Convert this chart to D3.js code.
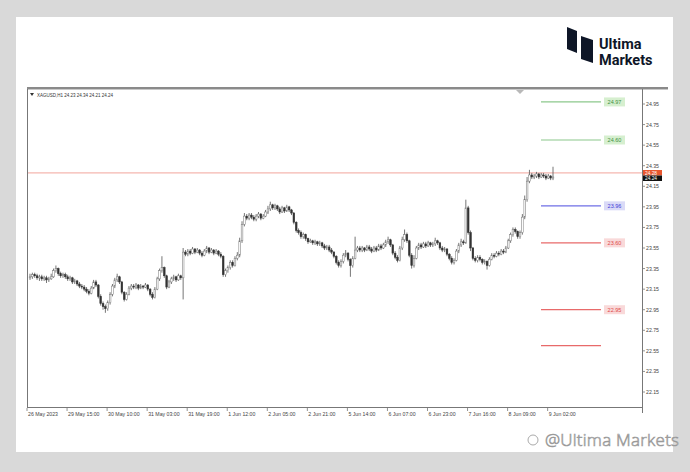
<!DOCTYPE html>
<html><head><meta charset="utf-8">
<script src="https://cdn.jsdelivr.net/npm/d3@7"></script>
<style>html,body{margin:0;padding:0;background:#d9d9d9;}svg{display:block;}</style>
</head><body>
<svg id="c" width="690" height="472"></svg>
<script>
// ---------- DATA (XAGUSD H1) ----------
const symbolTitle = "XAGUSD,H1";
const lastOHLC = ["24.23","24.34","24.21","24.24"];
const opens = [
23.26,23.27,23.29,23.28,23.26,23.27,23.25,23.26,23.24,23.25,
23.27,23.33,23.35,23.30,23.28,23.29,23.27,23.25,23.26,23.22,
23.23,23.20,23.18,23.17,23.15,23.13,23.11,23.16,23.22,23.19,
23.08,23.01,22.98,22.96,23.02,23.10,23.18,23.24,23.27,23.22,
23.12,23.05,23.10,23.16,23.18,23.17,23.19,23.16,23.18,23.17,
23.19,23.15,23.10,23.07,23.15,23.25,23.33,23.36,23.28,23.17,
23.22,23.25,23.27,23.24,23.28,23.26,23.51,23.49,23.52,23.50,
23.54,23.51,23.53,23.50,23.48,23.52,23.55,23.51,23.53,23.50,
23.52,23.49,23.47,23.29,23.33,23.36,23.41,23.38,23.45,23.48,
23.62,23.78,23.86,23.84,23.87,23.85,23.83,23.86,23.88,23.84,
23.86,23.90,23.93,23.97,23.94,23.96,23.93,23.90,23.94,23.91,
23.95,23.92,23.89,23.80,23.72,23.70,23.66,23.68,23.64,23.61,
23.62,23.60,23.61,23.59,23.60,23.57,23.55,23.56,23.53,23.51,
23.47,23.41,23.38,23.42,23.48,23.50,23.44,23.38,23.45,23.53,
23.55,23.53,23.55,23.53,23.56,23.54,23.52,23.55,23.53,23.57,
23.55,23.58,23.61,23.63,23.58,23.50,23.46,23.43,23.55,23.63,
23.68,23.62,23.48,23.38,23.45,23.55,23.58,23.56,23.59,23.57,
23.60,23.58,23.59,23.62,23.60,23.55,23.53,23.54,23.49,23.45,
23.41,23.43,23.52,23.58,23.61,23.60,23.94,23.70,23.55,23.45,
23.43,23.46,23.44,23.41,23.42,23.38,23.44,23.48,23.47,23.50,
23.49,23.52,23.51,23.55,23.62,23.68,23.73,23.71,23.66,23.70,
23.85,24.02,24.20,24.26,24.24,24.25,24.27,24.24,24.26,24.25,
24.23,24.25,24.23];
const highs = [
23.30,23.31,23.31,23.30,23.29,23.29,23.28,23.28,23.27,23.30,
23.35,23.38,23.36,23.32,23.31,23.31,23.29,23.28,23.27,23.25,
23.24,23.22,23.20,23.19,23.17,23.15,23.18,23.24,23.24,23.20,
23.10,23.03,23.00,23.04,23.12,23.20,23.26,23.30,23.28,23.23,
23.13,23.12,23.18,23.20,23.20,23.21,23.20,23.20,23.19,23.21,
23.20,23.16,23.12,23.17,23.27,23.35,23.47,23.37,23.29,23.24,
23.27,23.29,23.28,23.30,23.29,23.55,23.53,23.54,23.54,23.56,
23.55,23.55,23.54,23.52,23.54,23.57,23.56,23.55,23.54,23.54,
23.53,23.51,23.48,23.35,23.38,23.43,23.43,23.47,23.51,23.65,
23.81,23.89,23.88,23.89,23.89,23.87,23.88,23.90,23.89,23.88,
23.92,23.96,24.00,23.98,23.98,23.97,23.95,23.96,23.95,23.97,
23.96,23.93,23.90,23.81,23.74,23.72,23.70,23.69,23.65,23.64,
23.63,23.63,23.62,23.62,23.61,23.59,23.58,23.58,23.55,23.52,
23.48,23.43,23.44,23.50,23.53,23.51,23.45,23.47,23.66,23.57,
23.57,23.57,23.56,23.58,23.58,23.56,23.57,23.57,23.59,23.59,
23.60,23.63,23.66,23.64,23.59,23.52,23.48,23.57,23.66,23.73,
23.70,23.63,23.50,23.48,23.57,23.60,23.60,23.61,23.61,23.62,
23.61,23.61,23.65,23.63,23.61,23.57,23.56,23.55,23.50,23.47,
23.45,23.54,23.60,23.64,23.63,24.02,23.96,23.72,23.56,23.47,
23.48,23.48,23.45,23.44,23.43,23.46,23.50,23.50,23.52,23.52,
23.54,23.54,23.57,23.64,23.70,23.75,23.75,23.72,23.72,23.88,
24.06,24.24,24.31,24.28,24.27,24.29,24.28,24.28,24.28,24.27,
24.27,24.26,24.34];
const lows = [
23.24,23.25,23.26,23.24,23.23,23.23,23.23,23.21,23.22,23.24,
23.26,23.31,23.28,23.26,23.26,23.25,23.23,23.23,23.20,23.20,
23.18,23.16,23.15,23.13,23.11,23.09,23.10,23.15,23.17,23.06,
22.99,22.95,22.92,22.94,23.00,23.08,23.16,23.22,23.20,23.10,
23.03,23.04,23.09,23.14,23.15,23.15,23.14,23.15,23.15,23.16,
23.13,23.08,23.05,23.06,23.14,23.23,23.31,23.26,23.15,23.16,
23.20,23.23,23.22,23.23,23.24,23.05,23.47,23.47,23.48,23.49,
23.49,23.50,23.48,23.46,23.47,23.50,23.49,23.50,23.48,23.49,
23.47,23.45,23.27,23.27,23.31,23.34,23.36,23.37,23.43,23.46,
23.60,23.76,23.82,23.82,23.83,23.81,23.81,23.84,23.82,23.83,
23.85,23.88,23.91,23.92,23.92,23.91,23.88,23.89,23.89,23.90,
23.90,23.87,23.78,23.70,23.68,23.64,23.64,23.62,23.59,23.60,
23.58,23.58,23.57,23.57,23.55,23.53,23.53,23.51,23.49,23.45,
23.39,23.36,23.36,23.40,23.46,23.42,23.27,23.36,23.44,23.51,
23.51,23.51,23.51,23.52,23.52,23.50,23.51,23.51,23.52,23.53,
23.54,23.56,23.59,23.56,23.48,23.44,23.41,23.42,23.53,23.61,
23.60,23.46,23.35,23.36,23.44,23.53,23.54,23.55,23.55,23.56,
23.56,23.56,23.57,23.58,23.53,23.51,23.51,23.47,23.43,23.39,
23.39,23.42,23.50,23.56,23.58,23.59,23.68,23.52,23.43,23.41,
23.41,23.42,23.39,23.39,23.34,23.37,23.43,23.45,23.46,23.47,
23.48,23.49,23.50,23.54,23.60,23.66,23.69,23.64,23.64,23.68,
23.83,24.00,24.18,24.22,24.22,24.23,24.22,24.23,24.23,24.21,
24.22,24.21,24.21];
const closes = [
23.27,23.29,23.28,23.26,23.27,23.25,23.26,23.24,23.25,23.27,
23.33,23.35,23.30,23.28,23.29,23.27,23.25,23.26,23.22,23.23,
23.20,23.18,23.17,23.15,23.13,23.11,23.16,23.22,23.19,23.08,
23.01,22.98,22.96,23.02,23.10,23.18,23.24,23.27,23.22,23.12,
23.05,23.10,23.16,23.18,23.17,23.19,23.16,23.18,23.17,23.19,
23.15,23.10,23.07,23.15,23.25,23.33,23.36,23.28,23.17,23.22,
23.25,23.27,23.24,23.28,23.26,23.51,23.49,23.52,23.50,23.54,
23.51,23.53,23.50,23.48,23.52,23.55,23.51,23.53,23.50,23.52,
23.49,23.47,23.29,23.33,23.36,23.41,23.38,23.45,23.48,23.62,
23.78,23.86,23.84,23.87,23.85,23.83,23.86,23.88,23.84,23.86,
23.90,23.93,23.97,23.94,23.96,23.93,23.90,23.94,23.91,23.95,
23.92,23.89,23.80,23.72,23.70,23.66,23.68,23.64,23.61,23.62,
23.60,23.61,23.59,23.60,23.57,23.55,23.56,23.53,23.51,23.47,
23.41,23.38,23.42,23.48,23.50,23.44,23.38,23.45,23.53,23.55,
23.53,23.55,23.53,23.56,23.54,23.52,23.55,23.53,23.57,23.55,
23.58,23.61,23.63,23.58,23.50,23.46,23.43,23.55,23.63,23.68,
23.62,23.48,23.38,23.45,23.55,23.58,23.56,23.59,23.57,23.60,
23.58,23.59,23.62,23.60,23.55,23.53,23.54,23.49,23.45,23.41,
23.43,23.52,23.58,23.61,23.60,23.94,23.70,23.55,23.45,23.43,
23.46,23.44,23.41,23.42,23.38,23.44,23.48,23.47,23.50,23.49,
23.52,23.51,23.55,23.62,23.68,23.73,23.71,23.66,23.70,23.85,
24.02,24.20,24.26,24.24,24.25,24.27,24.24,24.26,24.25,24.23,
24.25,24.23,24.24];

// time axis labels and the bar index they sit on
const timeLabels = ["26 May 2023","29 May 15:00","30 May 10:00","31 May 03:00","31 May 19:00","1 Jun 12:00","2 Jun 05:00","2 Jun 21:00","5 Jun 14:00","6 Jun 07:00","6 Jun 23:00","7 Jun 16:00","8 Jun 09:00","9 Jun 02:00"];
const timeLabelBars = [0,17,34,51,68,85,102,119,136,153,170,187,204,221];

// price axis tick labels
const priceTicks = [24.95,24.75,24.55,24.35,24.15,23.95,23.75,23.55,23.35,23.15,22.95,22.75,22.55,22.35,22.15];

// horizontal levels drawn on the right
const levelValues = [24.97,24.60,23.96,23.60,22.95,22.60];
const levelLabels = ["24.97","24.60","23.96","23.60","22.95",""];
const levelKinds  = ["green","green","blue","red","red","red"];

const askPrice = 24.28, bidPrice = 24.24;

// ---------- DRAW ----------
const svg = d3.select("#c");
const W = 690, H = 472;
svg.append("rect").attr("width",W).attr("height",H).attr("fill","#d9d9d9");
svg.append("rect").attr("x",16).attr("y",17).attr("width",657).attr("height",435).attr("fill","#ffffff");

const plotL = 27, plotR = 642, plotT = 88, plotB = 407, winR = 668;
const x = d3.scaleLinear().domain([0,222]).range([30,553]);
const y = d3.scaleLinear().domain([22.15,24.95]).range([392,104]);

const font = "'Liberation Sans', Arial, sans-serif";

// chart window frame
svg.append("line").attr("x1",plotL).attr("x2",winR).attr("y1",88).attr("y2",88).attr("stroke","#8a8a8a").attr("stroke-width",2);
svg.append("line").attr("x1",plotL).attr("x2",winR).attr("y1",89.5).attr("y2",89.5).attr("stroke","#c8c8c8").attr("stroke-width",1);
svg.append("line").attr("x1",plotL+0.5).attr("x2",plotL+0.5).attr("y1",89).attr("y2",plotB).attr("stroke","#777").attr("stroke-width",1);
svg.append("line").attr("x1",plotL).attr("x2",plotR).attr("y1",plotB+0.5).attr("y2",plotB+0.5).attr("stroke","#777").attr("stroke-width",1);
svg.append("line").attr("x1",plotR+0.5).attr("x2",plotR+0.5).attr("y1",89).attr("y2",413).attr("stroke","#777").attr("stroke-width",1);

// shift marker
svg.append("path").attr("d",`M${516},${90} L${524},${90} L${520},${94} Z`).attr("fill","#b8b8b8");

// header text
svg.append("path").attr("d","M30,93 L34,93 L32,96 Z").attr("fill","#333");
svg.append("text").attr("x",37).attr("y",96.5).attr("font-family",font).attr("font-size",4.5).attr("fill","#333")
  .text(symbolTitle + " " + lastOHLC.join(" "));

// ask line
svg.append("line").attr("x1",plotL+1).attr("x2",plotR).attr("y1",y(askPrice)).attr("y2",y(askPrice))
  .attr("stroke","#f2a49c").attr("stroke-width",1);

// candles
const bars = d3.range(closes.length).map(i=>({i,o:opens[i],h:highs[i],l:lows[i],c:closes[i]}));
const g = svg.append("g");
g.selectAll("line.w").data(bars).join("line").attr("class","w")
  .attr("x1",d=>x(d.i)).attr("x2",d=>x(d.i)).attr("y1",d=>y(d.h)).attr("y2",d=>y(d.l))
  .attr("stroke","#666").attr("stroke-width",0.9);
const bw = 1.7;
g.selectAll("rect.b").data(bars).join("rect").attr("class","b")
  .attr("x",d=>x(d.i)-bw/2).attr("width",bw)
  .attr("y",d=>y(Math.max(d.o,d.c))).attr("height",d=>Math.max(0.8,Math.abs(y(d.o)-y(d.c))))
  .attr("fill",d=>d.c>=d.o?"#ffffff":"#333")
  .attr("stroke",d=>d.c>=d.o?"#777":"#333").attr("stroke-width",0.5);

// levels
const kindStyle = {
  green:{line:"#8cc88c", fill:"#d6efcf", text:"#3f8f3f"},
  blue:{line:"#6f6fe6", fill:"#dadaf7", text:"#4040d8"},
  red:{line:"#e86a6a", fill:"#f9d9d9", text:"#e04a4a"}
};
const lv = levelValues.map((v,k)=>({v,label:levelLabels[k],kind:levelKinds[k]}));
svg.selectAll("line.lv").data(lv).join("line").attr("class","lv")
  .attr("x1",541).attr("x2",601).attr("y1",d=>y(d.v)).attr("y2",d=>y(d.v))
  .attr("stroke",d=>kindStyle[d.kind].line).attr("stroke-width",1.2);
const lg = svg.selectAll("g.lvl").data(lv.filter(d=>d.label)).join("g").attr("class","lvl")
  .attr("transform",d=>`translate(604,${y(d.v)})`);
lg.append("rect").attr("x",0).attr("y",-4.5).attr("width",21).attr("height",9).attr("fill",d=>kindStyle[d.kind].fill);
lg.append("text").attr("x",10.5).attr("y",2).attr("text-anchor","middle").attr("font-family",font).attr("font-size",5.5)
  .attr("fill",d=>kindStyle[d.kind].text).text(d=>d.label);

// price axis
const pa = svg.selectAll("g.pt").data(priceTicks).join("g").attr("class","pt").attr("transform",d=>`translate(${plotR},${y(d)})`);
pa.append("line").attr("x1",0).attr("x2",3).attr("stroke","#777").attr("stroke-width",0.8);
pa.append("text").attr("x",4).attr("y",2).attr("font-family",font).attr("font-size",5.2).attr("fill","#444").text(d=>d.toFixed(2));

// current price boxes (ask above, bid below)
[[askPrice,"#e8562e",170],[bidPrice,"#111",175.5]].forEach(([p,col,top])=>{
  svg.append("rect").attr("x",plotR+1).attr("y",top).attr("width",19).attr("height",5.5).attr("fill",col);
  svg.append("text").attr("x",plotR+3).attr("y",top+4.6).attr("font-family",font).attr("font-size",4.8).attr("fill","#fff").text(p.toFixed(2));
});

// time axis
const ta = svg.selectAll("g.tt").data(timeLabels).join("g").attr("class","tt")
  .attr("transform",(d,k)=>`translate(${x(timeLabelBars[k])-3},${plotB})`);
ta.append("line").attr("x1",0).attr("x2",0).attr("y1",1).attr("y2",4).attr("stroke","#777").attr("stroke-width",0.8);
ta.append("text").attr("x",1).attr("y",8.5).attr("font-family",font).attr("font-size",5.2).attr("fill","#444").text(d=>d);

// logo
const logo = svg.append("g");
logo.append("path").attr("d","M567,27 L577,31 L577,53 L567,49 Z").attr("fill","#0e1627");
logo.append("path").attr("d","M581,36 L593,40 L593,63 L581,59 Z").attr("fill","#0e1627");
logo.append("text").attr("x",599).attr("y",48.5).attr("font-family","Roboto, Inter, sans-serif").attr("font-weight",700)
  .attr("font-size",14.5).attr("fill","#0e1627").text("Ultima");
logo.append("text").attr("x",599).attr("y",64.5).attr("font-family","Roboto, Inter, sans-serif").attr("font-weight",700)
  .attr("font-size",14.5).attr("fill","#0e1627").text("Markets");

// watermark
const wm = svg.append("g");
wm.append("circle").attr("cx",533).attr("cy",440).attr("r",5).attr("fill","none").attr("stroke","#aaa").attr("stroke-width",1);
wm.append("text").attr("x",545).attr("y",446).attr("font-family","'Open Sans', sans-serif").attr("font-weight",300)
  .attr("font-size",17).attr("fill","#ffffff").attr("stroke","#9a9a9a").attr("stroke-width",0.7)
  .attr("textLength",134).text("@Ultima Markets");
</script>
</body></html>
